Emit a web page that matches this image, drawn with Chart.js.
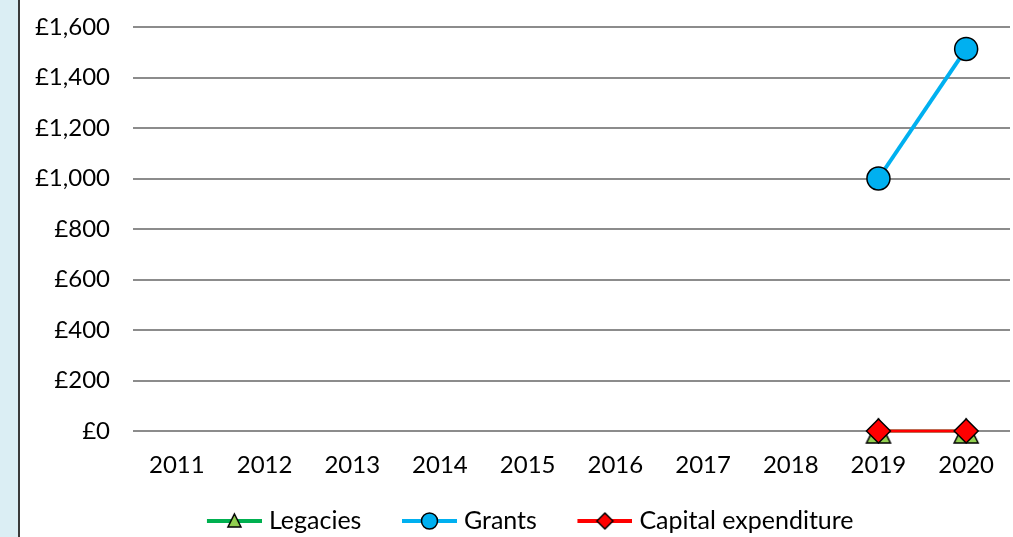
<!DOCTYPE html>
<html>
<head>
<meta charset="utf-8">
<script src="https://cdn.jsdelivr.net/npm/chart.js@4/dist/chart.umd.min.js"></script>
<style>
  html, body { margin: 0; padding: 0; background: #fff; }
  #wrap { position: relative; width: 1013px; height: 537px; overflow: hidden; }
  #strip { position: absolute; left: 0; top: 0; width: 18px; height: 537px; background: #dbeef4; border-right: 2px solid #3a3a3a; }
  #box { position: absolute; left: 20px; top: 0; width: 993px; height: 537px; }
</style>
</head>
<body>
<div id="wrap">
  <div id="strip"></div>
  <div id="box"><canvas id="chart"></canvas></div>
</div>
<script>
var years = ['2011', '2012', '2013', '2014', '2015', '2016', '2017', '2018', '2019', '2020'];
var legacies = [null, null, null, null, null, null, null, null, 0, 0];
var grants = [null, null, null, null, null, null, null, null, 1000, 1513];
var capital = [null, null, null, null, null, null, null, null, 0, 0];

var fontName = 'Lato, "Open Sans", sans-serif';

function formatPound(value) {
    return '£' + value.toString().replace(/\B(?=(\d{3})+(?!\d))/g, ",");
}

// excel style triangle: apex and base equally far from the centre
function triangleMarker(size, fill) {
    var c = document.createElement('canvas');
    c.width = size + 4;
    c.height = size + 4;
    var g = c.getContext('2d');
    var m = c.width / 2;
    g.fillStyle = fill;
    g.strokeStyle = '#000';
    g.lineWidth = 1.5;
    g.beginPath();
    g.moveTo(m, 2);
    g.lineTo(m + size / 2, size + 2);
    g.lineTo(m - size / 2, size + 2);
    g.closePath();
    g.fill();
    g.stroke();
    return c;
}

// legend swatch: short line with the marker in the middle.
// the image is wider than the legend box, the empty left part keeps the gap between items
var SW = 91;
function swatch(lineColor, fillColor, shape) {
    var c = document.createElement('canvas');
    c.width = SW;
    c.height = 26;
    var g = c.getContext('2d');
    var x0 = SW - 55, mx = SW - 27.5;
    g.strokeStyle = lineColor;
    g.lineWidth = 4;
    g.beginPath();
    g.moveTo(x0, 13);
    g.lineTo(SW, 13);
    g.stroke();
    g.fillStyle = fillColor;
    g.strokeStyle = '#000';
    g.lineWidth = 1.5;
    g.beginPath();
    if (shape === 'circle') {
        g.arc(mx, 13, 8, 0, Math.PI * 2);
    } else if (shape === 'triangle') {
        g.moveTo(mx, 6);
        g.lineTo(mx + 6.5, 19);
        g.lineTo(mx - 6.5, 19);
        g.closePath();
    } else {
        g.moveTo(mx, 5);
        g.lineTo(mx + 8, 13);
        g.lineTo(mx, 21);
        g.lineTo(mx - 8, 13);
        g.closePath();
    }
    g.fill();
    g.stroke();
    return c;
}

var ctx = document.getElementById('chart').getContext('2d');

var chart = new Chart(ctx, {
    type: 'line',
    data: {
        labels: years,
        datasets: [{
            label: 'Legacies',
            data: legacies,
            borderColor: '#00b050',
            borderWidth: 3,
            pointStyle: triangleMarker(24, '#92d050'),
            pointRadius: 12,
            clip: false,
            order: 2,
            legendImg: swatch('#00b050', '#92d050', 'triangle')
        }, {
            label: 'Grants',
            data: grants,
            borderColor: '#00b0f0',
            borderWidth: 4,
            pointStyle: 'circle',
            pointRadius: 11.5,
            pointBackgroundColor: '#00b0f0',
            pointBorderColor: '#000',
            pointBorderWidth: 1.5,
            clip: false,
            order: 1,
            legendImg: swatch('#00b0f0', '#00b0f0', 'circle')
        }, {
            label: 'Capital expenditure',
            data: capital,
            borderColor: '#ff0000',
            borderWidth: 3,
            pointStyle: 'rectRot',
            pointRadius: 12,
            pointBackgroundColor: '#ff0000',
            pointBorderColor: '#000',
            pointBorderWidth: 1.5,
            clip: false,
            order: 0,
            legendImg: swatch('#ff0000', '#ff0000', 'diamond')
        }]
    },
    options: {
        responsive: true,
        maintainAspectRatio: false,
        animation: false,
        layout: {
            autoPadding: false,
            padding: { top: 27, right: 3, left: 0, bottom: -6.5 }
        },
        scales: {
            x: {
                offset: true,
                grid: { display: false, drawTicks: false },
                border: { display: false },
                ticks: {
                    color: '#000',
                    padding: 20,
                    maxRotation: 0,
                    font: { family: fontName, size: 24 }
                },
                afterFit: function(scale) {
                    scale.height = 67.5;
                    scale.paddingLeft = 0;
                    scale.paddingRight = 0;
                }
            },
            y: {
                min: 0,
                max: 1600,
                border: { display: false },
                grid: { color: '#8c8c8c', lineWidth: 2, drawTicks: false },
                ticks: {
                    stepSize: 200,
                    color: '#000',
                    padding: 23,
                    font: { family: fontName, size: 24 },
                    callback: function(value) {
                        return formatPound(value);
                    }
                },
                afterFit: function(scale) {
                    scale.width = 113;
                    scale.paddingTop = 0;
                    scale.paddingBottom = 0;
                }
            }
        },
        plugins: {
            legend: {
                position: 'bottom',
                labels: {
                    usePointStyle: true,
                    pointStyleWidth: SW - 11,
                    padding: 10,
                    color: '#000',
                    font: { family: fontName, size: 25 },
                    generateLabels: function(chart) {
                        return chart.data.datasets.map(function(ds, i) {
                            return {
                                text: ds.label,
                                pointStyle: ds.legendImg,
                                fontColor: '#000',
                                datasetIndex: i,
                                hidden: false,
                                lineWidth: 0
                            };
                        });
                    }
                }
            },
            tooltip: { enabled: false }
        }
    }
});
</script>
</body>
</html>
